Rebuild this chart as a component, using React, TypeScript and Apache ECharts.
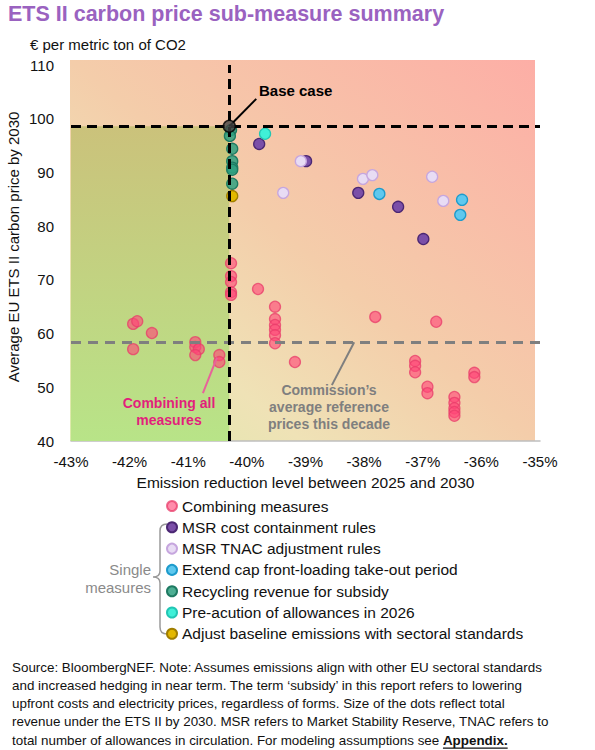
import React, { useEffect, useRef } from "react";
import * as echarts from "echarts";

// ---------- data ----------
const xMin = -43;
const xMax = -35;
const yMin = 40;
const yMax = 110;

const baseCase = [[-40.3, 98.6]];
const commissionRef = 58.4;

const combining = [
  [-41.94, 61.8], [-41.87, 62.3], [-41.62, 60.1], [-41.94, 57.1],
  [-40.88, 58.4], [-40.88, 57.5], [-40.82, 57.1], [-40.88, 56.0],
  [-40.47, 56.0], [-40.47, 54.7],
  [-40.27, 73.1], [-40.27, 70.7], [-40.27, 69.6], [-40.27, 67.7], [-40.27, 67.2],
  [-39.81, 68.3],
  [-39.52, 65.0], [-39.52, 62.7], [-39.52, 61.6], [-39.52, 60.7], [-39.52, 59.7], [-39.52, 58.2],
  [-39.18, 54.7],
  [-37.81, 63.1], [-36.77, 62.2],
  [-37.13, 54.9], [-37.13, 54.0], [-37.13, 52.8],
  [-36.92, 50.1], [-36.92, 48.9],
  [-36.46, 48.2], [-36.46, 47.1], [-36.46, 46.1], [-36.46, 45.4], [-36.46, 44.7],
  [-36.12, 52.7], [-36.12, 51.9],
];
const msrCost = [[-39.79, 95.3], [-38.99, 92.1], [-38.1, 86.2], [-37.42, 83.6], [-36.99, 77.6]];
const msrTnac = [[-39.08, 92.1], [-39.38, 86.2], [-38.02, 88.8], [-37.86, 89.5], [-36.84, 89.2], [-36.65, 84.7]];
const extendCap = [[-37.74, 86.0], [-36.33, 84.9], [-36.36, 82.1]];
const recycling = [[-40.27, 97.9], [-40.29, 96.8], [-40.25, 94.4], [-40.25, 92.1], [-40.25, 90.9], [-40.25, 90.5], [-40.25, 87.9]];
const preAuction = [[-39.69, 97.2]];
const adjustBaseline = [[-40.25, 85.6]];

// annotation anchors (data space)
const baseLeaderEnd = [-39.84, 103.7];
const pinkLeader = [[-40.51, 55.5], [-40.75, 48.9]];
const greyLeader = [[-38.17, 58.4], [-38.55, 50.4]];

const seriesNames = [
  "Combining measures",
  "MSR cost containment rules",
  "MSR TNAC adjustment rules",
  "Extend cap front-loading take-out period",
  "Recycling revenue for subsidy",
  "Pre-acution of allowances in 2026",
  "Adjust baseline emissions with sectoral standards",
];

const footerLines = [
  "Source: BloombergNEF. Note: Assumes emissions align with other EU sectoral standards",
  "and increased hedging in near term. The term \u2018subsidy\u2019 in this report refers to lowering",
  "upfront costs and electricity prices, regardless of forms. Size of the dots reflect total",
  "revenue under the ETS II by 2030. MSR refers to Market Stability Reserve, TNAC refers to",
];
const footerLastPrefix = "total number of allowances in circulation. For modeling assumptions see ";
const footerLink = "Appendix.";

const FONT = "'Liberation Sans', Arial, Helvetica, sans-serif";

echarts.graphic.registerShape(
  "brace",
  echarts.graphic.extendPath(
    "M14 3 C9 3 7 5 7 10 L7 50 C7 54 5 56 0 56 C5 56 7 58 7 62 L7 106 C7 111 9 113 14 113",
    {}
  ) as any
);

function measure(text: string, font: string) {
  const c = document.createElement("canvas").getContext("2d")!;
  c.font = font;
  return c.measureText(text).width;
}

export default function App() {
  const ref = useRef<HTMLDivElement>(null);
  useEffect(() => {
    document.body.style.margin = "0";
    const chart = echarts.init(ref.current!, null, { renderer: "svg" });

    const footerFont = 13.4;
    const prefixW = measure(footerLastPrefix, `${footerFont}px 'Liberation Sans', Arial`);
    const linkW = measure(footerLink, `bold ${footerFont}px 'Liberation Sans', Arial`);
    const footerY0 = 667;
    const footerDy = 18.3;

    const scatter = (name: string, data: number[][], fill: string, stroke: string, z = 3) => ({
      name,
      type: "scatter",
      data,
      symbol: "circle",
      symbolSize: 11,
      z,
      itemStyle: { color: fill, borderColor: stroke, borderWidth: 1.3, opacity: 1 },
      emphasis: { disabled: true },
    });

    const option: any = {
      animation: false,
      textStyle: { fontFamily: FONT },
      grid: { left: 71, right: 55, top: 65, bottom: 309, containLabel: false },
      xAxis: {
        type: "value",
        min: xMin,
        max: xMax,
        interval: 1,
        axisLine: { show: true, lineStyle: { color: "#bfbfbf", width: 1.5 } },
        axisTick: { show: false },
        splitLine: { show: false },
        axisLabel: {
          formatter: (v: number) => `${v}%`,
          fontSize: 15,
          color: "#111",
          margin: 13,
          fontFamily: FONT,
        },
        name: "Emission reduction level between 2025 and 2030",
        nameLocation: "middle",
        nameGap: 33,
        nameTextStyle: { fontSize: 15.5, color: "#111", fontFamily: FONT },
      },
      yAxis: {
        type: "value",
        min: yMin,
        max: yMax,
        interval: 10,
        axisLine: { show: false },
        axisTick: { show: false },
        splitLine: { show: false },
        axisLabel: { fontSize: 15, color: "#111", margin: 17, fontFamily: FONT },
      },
      legend: {
        orient: "vertical",
        left: 166,
        top: 498,
        padding: 0,
        itemWidth: 10,
        itemHeight: 10,
        itemGap: 5.3,
        icon: "circle",
        textStyle: { fontSize: 15.5, lineHeight: 16, color: "#111", fontFamily: FONT },
        data: seriesNames,
        selectedMode: false,
      },
      graphic: [
        {
          type: "rect",
          z: -10,
          silent: true,
          shape: { x: 70, y: 60, width: 465, height: 381 },
          style: {
            fill: new echarts.graphic.LinearGradient(0, 1, 1, 0, [
              { offset: 0, color: "#dcebab" },
              { offset: 0.25, color: "#efe2b6" },
              { offset: 0.5, color: "#f4cdaa" },
              { offset: 1, color: "#fdaea6" },
            ]),
          },
        },
        {
          type: "text",
          x: 8,
          y: 14,
          style: {
            text: "ETS II carbon price sub-measure summary",
            fill: "#9a62c0",
            font: `bold 21.5px ${FONT}`,
            verticalAlign: "middle",
          },
        },
        {
          type: "text",
          x: 30,
          y: 44,
          style: {
            text: "\u20ac per metric ton of CO2",
            fill: "#111",
            font: `15px ${FONT}`,
            verticalAlign: "middle",
          },
        },
        {
          type: "text",
          x: 13,
          y: 247,
          rotation: Math.PI / 2,
          style: {
            text: "Average EU ETS II carbon price by 2030",
            fill: "#111",
            font: `15px ${FONT}`,
            align: "center",
            verticalAlign: "middle",
          },
        },
        {
          type: "text",
          x: 259,
          y: 90,
          z: 10,
          style: {
            text: "Base case",
            fill: "#000",
            font: `bold 15px ${FONT}`,
            verticalAlign: "middle",
          },
        },
        {
          type: "text",
          x: 169,
          y: 411.5,
          z: 10,
          style: {
            text: "Combining all\nmeasures",
            fill: "#e21f7c",
            font: `bold 14px ${FONT}`,
            lineHeight: 17,
            align: "center",
            verticalAlign: "middle",
          },
        },
        {
          type: "text",
          x: 329,
          y: 407,
          z: 10,
          style: {
            text: "Commission\u2019s\naverage reference\nprices this decade",
            fill: "#7f7f7f",
            font: `bold 14px ${FONT}`,
            lineHeight: 17,
            align: "center",
            verticalAlign: "middle",
          },
        },
        {
          type: "brace",
          x: 153,
          y: 521,
          shape: {},
          style: { stroke: "#9a9a9a", fill: null, lineWidth: 1.5 },
        },
        {
          type: "text",
          x: 151,
          y: 578,
          style: {
            text: "Single\nmeasures",
            fill: "#8a8a8a",
            font: `15px ${FONT}`,
            lineHeight: 18,
            align: "right",
            verticalAlign: "middle",
          },
        },
        ...footerLines.map((t, i) => ({
          type: "text",
          x: 12,
          y: footerY0 + i * footerDy,
          style: {
            text: t,
            fill: "#111",
            font: `${footerFont}px ${FONT}`,
            verticalAlign: "middle",
          },
        })),
        {
          type: "text",
          x: 12,
          y: footerY0 + 4 * footerDy,
          style: {
            text: footerLastPrefix + "{b|" + footerLink + "}",
            fill: "#111",
            font: `${footerFont}px ${FONT}`,
            verticalAlign: "middle",
            rich: { b: { fontWeight: "bold", fontSize: footerFont, fontFamily: FONT, fill: "#111" } },
          },
        },
        {
          type: "line",
          shape: {
            x1: 12 + prefixW,
            y1: footerY0 + 4 * footerDy + 8,
            x2: 12 + prefixW + linkW,
            y2: footerY0 + 4 * footerDy + 8,
          },
          style: { stroke: "#111", lineWidth: 1.2 },
        },
      ],
      series: [
        {
          name: "guides",
          type: "scatter",
          data: [],
          z: 1,
          silent: true,
          markArea: {
            silent: true,
            itemStyle: {
              color: new echarts.graphic.LinearGradient(0, 0, 0, 1, [
                { offset: 0, color: "#cbc27b" },
                { offset: 1, color: "#b8e488" },
              ]),
            },
            data: [[{ coord: [xMin, yMin] }, { coord: [baseCase[0][0], baseCase[0][1]] }]],
          },
          markLine: {
            silent: true,
            symbol: ["none", "none"],
            label: { show: false },
            emphasis: { disabled: true },
            data: [
              { yAxis: commissionRef, lineStyle: { color: "#7f7f7f", width: 3, type: [10, 7] } },
              { yAxis: baseCase[0][1], lineStyle: { color: "#000", width: 3, type: [10, 6] } },
              { xAxis: baseCase[0][0], lineStyle: { color: "#000", width: 3, type: [10, 6] } },
              [
                { coord: baseCase[0], lineStyle: { color: "#000", width: 2, type: "solid" } },
                { coord: baseLeaderEnd },
              ],
              [
                { coord: pinkLeader[0], lineStyle: { color: "#e8629a", width: 2, type: "solid" } },
                { coord: pinkLeader[1] },
              ],
              [
                { coord: greyLeader[0], lineStyle: { color: "#7f7f7f", width: 2, type: "solid" } },
                { coord: greyLeader[1] },
              ],
            ],
          },
        },
        scatter(seriesNames[0], combining, "rgba(255,70,120,0.62)", "rgba(232,60,105,0.75)"),
        scatter(seriesNames[1], msrCost, "#7b4fa8", "#4b2773"),
        scatter(seriesNames[2], msrTnac, "#e8dcf4", "#c6a6de"),
        scatter(seriesNames[3], extendCap, "#5fc8ee", "#1d9bcc"),
        scatter(seriesNames[4], recycling, "rgba(46,160,128,0.85)", "#1e7a62"),
        scatter(seriesNames[5], preAuction, "#40f0d8", "#22c6b4"),
        scatter(seriesNames[6], adjustBaseline, "#e3b800", "#a07e00"),
        {
          name: "Base case",
          type: "scatter",
          data: baseCase,
          symbolSize: 12,
          z: 8,
          itemStyle: { color: "#444", borderColor: "#000", borderWidth: 1.5 },
          emphasis: { disabled: true },
        },
      ],
    };
    chart.setOption(option);
    return () => chart.dispose();
  }, []);
  return <div ref={ref} style={{ width: 595, height: 750 }} />;
}
